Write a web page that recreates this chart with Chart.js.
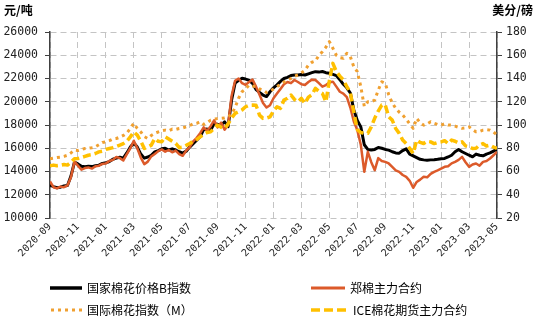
<!DOCTYPE html>
<html>
<head>
<meta charset="utf-8">
<script src="https://cdn.jsdelivr.net/npm/chart.js@4/dist/chart.umd.min.js"></script>
<style>
  html, body { margin: 0; padding: 0; background: #fff; }
  #wrap { width: 536px; height: 324px; position: relative; }
</style>
</head>
<body>
<div id="wrap"><canvas id="c" width="536" height="324"></canvas></div>
<script>
// Month labels shown on the time axis (one every two months)
const tickLabels = ['2020-09', '2020-11', '2021-01', '2021-03', '2021-05', '2021-07', '2021-09',
  '2021-11', '2022-01', '2022-03', '2022-05', '2022-07', '2022-09', '2022-11', '2023-01',
  '2023-03', '2023-05'];
// Weekly samples: 4 per month, starting at 2020-09
const stepsPerMonth = 4;

// 国家棉花价格B指数 (元/吨)
const bIndex = [
  12820, 12700, 12600, 12650, 12750, 12800, 13600, 14800,
  14650, 14450, 14400, 14450, 14420, 14500, 14550, 14700,
  14750, 14850, 15050, 15150, 15230, 15150, 15600, 16100,
  16450, 16100, 15500, 15150, 15250, 15400, 15690, 15800,
  15950, 16000, 15850, 15950, 15850, 15700, 15580, 15750,
  16100, 16400, 16700, 17000, 17600, 17650, 17560, 18100,
  18050, 18000, 18280, 17850, 20150, 21600, 21850, 22020,
  21950, 21850, 21590, 21050, 20800, 20580, 20450, 20860,
  21200, 21450, 21750, 22000, 22100, 22250, 22300, 22300,
  22350, 22300, 22400, 22500, 22590, 22550, 22600, 22500,
  22450, 22350, 22250, 21900, 21500, 21200, 20750, 19300,
  18400, 17840, 16300, 15900, 15850, 15900, 16070, 16000,
  15900, 15840, 15700, 15600, 15580, 15800, 15950, 15500,
  15350, 15200, 15050, 15000, 14970, 15000, 15020, 15050,
  15100, 15120, 15250, 15400, 15700, 15900, 15700, 15550,
  15400, 15260, 15500, 15400, 15350, 15500, 15600, 15750,
  15900
];

// 郑棉主力合约 (元/吨)
const zceMain = [
  13150, 12650, 12550, 12700, 12650, 12800, 13500, 14850,
  14500, 14150, 14300, 14350, 14250, 14450, 14500, 14650,
  14700, 14900, 15000, 15250, 15150, 14950, 15500, 16000,
  16650, 16000, 15200, 14630, 14850, 15300, 15500, 15750,
  15900, 15700, 15850, 15650, 15800, 15500, 15350, 15800,
  16100, 16600, 16900, 17300, 17800, 17500, 17900, 18400,
  17800, 18200, 17600, 18000, 20500, 21800, 22000, 21600,
  21450, 21700, 21900, 21300, 20600, 19900, 19500, 19700,
  20300, 20700, 21100, 21500, 21700, 21600, 21870, 21700,
  21500, 21440, 21700, 21900, 21870, 21600, 21300, 21440,
  21650, 21730, 21300, 20860, 20700, 20400, 19500, 18300,
  17560, 16300, 13970, 15690, 14800, 14110, 15150, 14900,
  14830, 14690, 14400, 14100, 13970, 13700, 13540, 13200,
  12600, 13100, 13300, 13540, 13500, 13800, 13970, 14100,
  14250, 14400, 14450, 14700, 14830, 15000, 15260, 14800,
  14400, 14600, 14690, 14500, 14830, 14900, 15120, 15400,
  15690
];

// 国际棉花指数（M） (美分/磅)
const cotlookM = [
  71, 71.5, 72, 72.3, 73, 74, 76, 78.4,
  78, 79, 79.8, 80, 80.5, 81.2, 83, 85,
  85.5, 86.5, 88, 88.4, 89.5, 91, 93, 97,
  101.4, 97, 94, 90, 88.4, 91, 92.8, 94,
  95, 95.6, 95, 96.5, 96.2, 97, 97.5, 98.4,
  99.5, 101, 101.4, 102.8, 100.5, 102, 104.2, 105,
  105.5, 105.7, 106, 107, 109, 115, 123, 128.6,
  131, 134.4, 133.5, 133, 131, 130, 128, 129,
  131, 133, 135, 137, 138.5, 140, 142, 143,
  145, 147, 151.5, 154, 155, 160, 163, 167,
  171.7, 166, 160, 158, 157.4, 161.7, 158.8, 150,
  145.9, 133, 116, 120, 120, 121.5, 130, 137.2,
  135.8, 126, 119, 114.3, 111, 108.5, 105, 101,
  97.1, 105.7, 102, 99.9, 101, 102.8, 101.5, 100.5,
  99.9, 101, 100, 99.9, 99, 98, 97.1, 97.5,
  98.4, 96, 94.1, 94.5, 95.6, 96, 95.6, 94,
  91.3
];

// ICE棉花期货主力合约 (美分/磅)
const iceMain = [
  65, 65.5, 65, 65.4, 66, 65.5, 68, 71,
  71.2, 72, 73, 74, 74.5, 75.5, 76.9, 77.5,
  79, 79.8, 80.5, 81.5, 82.7, 84, 86, 89.8,
  94, 91.3, 86, 79.8, 81, 82.7, 88.4, 86,
  85.5, 89.8, 88, 86, 84.1, 80.5, 81, 82.5,
  84.1, 86, 87.5, 89.8, 92, 93.5, 94.1, 97,
  99.9, 98, 97, 101, 106, 110, 111.4, 113,
  115.7, 117, 117.1, 117, 108.5, 105.7, 106, 107,
  112, 115.7, 114.3, 121.5, 123, 125.8, 122, 120,
  122.9, 118.6, 124, 126, 131.5, 129, 127.2, 120,
  138, 153, 146, 142, 138.7, 133, 128, 111,
  96, 93.5, 92.8, 92.8, 98.4, 106, 112, 117.1,
  117.1, 107, 104.2, 97, 92.8, 87, 84, 80,
  75.5, 87, 85, 84.1, 86, 85.5, 84, 85,
  85.5, 86.5, 84, 87, 86, 84.5, 85.5, 82,
  81.2, 79.8, 80, 82.7, 84, 82, 82.7, 81,
  79.8
];

const toPoints = arr => arr.map((v, i) => ({ x: i / stepsPerMonth, y: v }));

const COLORS = {
  b: '#000000',
  zce: '#dc5a2a',
  m: '#f0a030',
  ice: '#ffc000'
};

const GRID = '#c4c4c4';
const AXIS = '#404040';
const CJK = '"Noto Sans CJK SC", "Noto Sans", sans-serif';
const MONO = '"DejaVu Sans Mono", monospace';

// Legend and unit captions drawn straight onto the canvas
const decorations = {
  id: 'decorations',
  afterDraw(chart) {
    const ctx = chart.ctx;
    ctx.save();
    ctx.fillStyle = '#000';
    ctx.font = 'bold 12px ' + CJK;
    ctx.textBaseline = 'middle';
    ctx.textAlign = 'left';
    ctx.fillText('元/吨', 4, 10);
    ctx.textAlign = 'right';
    ctx.fillText('美分/磅', 533, 10);

    const items = [
      { text: '国家棉花价格B指数', color: COLORS.b, width: 3.5, dash: [], x0: 50, x1: 82, y: 288 },
      { text: '郑棉主力合约', color: COLORS.zce, width: 3, dash: [], x0: 311, x1: 345, y: 288 },
      { text: '国际棉花指数（M）', color: COLORS.m, width: 3, dash: [3, 4], x0: 51, x1: 82, y: 310 },
      { text: 'ICE棉花期货主力合约', color: COLORS.ice, width: 3.5, dash: [9, 4], x0: 311, x1: 348, y: 310 }
    ];
    ctx.font = '12px ' + CJK;
    ctx.textAlign = 'left';
    items.forEach(it => {
      ctx.beginPath();
      ctx.setLineDash(it.dash);
      ctx.lineWidth = it.width;
      ctx.strokeStyle = it.color;
      ctx.lineCap = 'butt';
      ctx.moveTo(it.x0, it.y);
      ctx.lineTo(it.x1, it.y);
      ctx.stroke();
      ctx.setLineDash([]);
      ctx.fillStyle = '#000';
      ctx.fillText(it.text, it.x1 + 5, it.y);
    });
    ctx.restore();
  }
};

new Chart(document.getElementById('c'), {
  type: 'line',
  data: {
    datasets: [
      { label: '国家棉花价格B指数', data: toPoints(bIndex), yAxisID: 'y',
        borderColor: COLORS.b, borderWidth: 3, order: 4 },
      { label: '郑棉主力合约', data: toPoints(zceMain), yAxisID: 'y',
        borderColor: COLORS.zce, borderWidth: 2.5, order: 3 },
      { label: '国际棉花指数（M）', data: toPoints(cotlookM), yAxisID: 'y1',
        borderColor: COLORS.m, borderWidth: 3, borderDash: [3, 4], order: 2 },
      { label: 'ICE棉花期货主力合约', data: toPoints(iceMain), yAxisID: 'y1',
        borderColor: COLORS.ice, borderWidth: 3.5, borderDash: [8, 4], order: 1 }
    ]
  },
  options: {
    responsive: false,
    animation: false,
    events: [],
    layout: { padding: { top: 32, left: 0, right: 0, bottom: 0 } },
    elements: {
      point: { radius: 0 },
      line: { tension: 0, borderJoinStyle: 'round', fill: false }
    },
    plugins: {
      legend: { display: false },
      tooltip: { enabled: false }
    },
    scales: {
      x: {
        type: 'linear',
        min: 0,
        max: 32,
        afterFit: s => { s.height = 106; },
        ticks: {
          stepSize: 2,
          autoSkip: false,
          minRotation: 45,
          maxRotation: 45,
          padding: 3,
          color: '#222',
          font: { family: MONO, size: 10 },
          callback: v => tickLabels[Math.round(v / 2)]
        },
        grid: { color: GRID, lineWidth: 1, drawTicks: false },
        border: { display: false, dash: [6, 4] }
      },
      y: {
        position: 'left',
        min: 10000,
        max: 26000,
        afterFit: s => { s.width = 50; },
        ticks: {
          stepSize: 2000,
          padding: 7,
          color: '#222',
          font: { family: MONO, size: 11.5 },
          callback: v => String(v)
        },
        grid: { color: GRID, lineWidth: 1, tickLength: 5, tickColor: AXIS, tickBorderDash: [20, 0] },
        border: { display: true, color: AXIS, width: 1.5, dash: [6, 4] }
      },
      y1: {
        position: 'right',
        min: 20,
        max: 180,
        afterFit: s => { s.width = 39; },
        ticks: {
          stepSize: 20,
          padding: 4,
          color: '#222',
          font: { family: MONO, size: 11.5 },
          callback: v => String(v)
        },
        grid: { drawOnChartArea: false, tickLength: 5, tickColor: AXIS, tickBorderDash: [20, 0] },
        border: { display: true, color: AXIS, width: 1.5 }
      }
    }
  },
  plugins: [decorations]
});
</script>
</body>
</html>
